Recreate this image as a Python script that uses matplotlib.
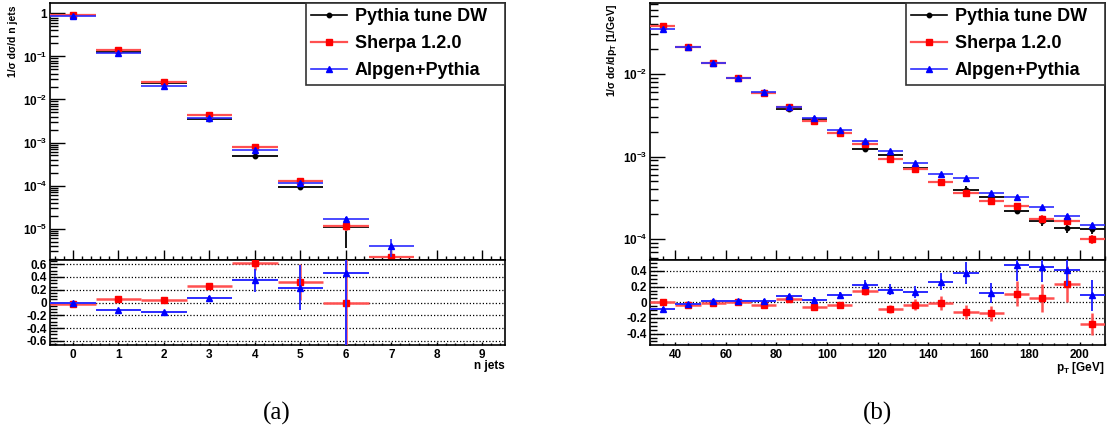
import numpy as np
import matplotlib
matplotlib.use('Agg')
import matplotlib.pyplot as plt
from matplotlib.ticker import FixedLocator, FixedFormatter, MultipleLocator, LogLocator, NullFormatter
from matplotlib.lines import Line2D

plt.rcParams.update({
    'font.family': ['Liberation Sans', 'DejaVu Sans'],
    'font.weight': 'bold',
    'mathtext.fontset': 'custom',
    'mathtext.rm': 'Liberation Sans:bold',
    'mathtext.it': 'Liberation Sans:bold:italic',
    'mathtext.bf': 'Liberation Sans:bold',
    'mathtext.default': 'rm',
})

# ---------------- data: panel (a) n jets ----------------
njets = [0, 1, 2, 3, 4, 5, 6, 7]
pythia_a = [0.90, 0.130, 0.0245, 0.00350, 0.000489, 9.5e-5, 1.1e-5, np.nan]
pythia_a_err = [0.01, 0.002, 0.0004, 0.00006, 0.00001, 1.5e-5, 0.75e-5, np.nan]
sherpa_a = [0.90, 0.138, 0.0254, 0.00436, 0.000794, 1.25e-4, 1.17e-5, 2.2e-6]
sherpa_a_err = [0.01, 0.002, 0.0004, 0.00006, 0.00002, 0.6e-5, 0.3e-5, 0.8e-6]
alpgen_a = [0.89, 0.117, 0.0207, 0.00380, 0.000664, 1.17e-4, 1.71e-5, 4.0e-6]
alpgen_a_err = [0.01, 0.002, 0.0004, 0.00006, 0.00002, 0.5e-5, 0.2e-5, 1.8e-6]

njets_ratio = [0, 1, 2, 3, 4, 5, 6]
sherpa_a_ratio = [-0.02, 0.056, 0.036, 0.254, 0.615, 0.32, -0.01]
sherpa_a_ratio_err = [0.01, 0.01, 0.015, 0.03, 0.10, 0.28, 0.9]
alpgen_a_ratio = [0.0, -0.117, -0.153, 0.071, 0.346, 0.229, 0.468]
alpgen_a_ratio_err = [0.01, 0.01, 0.015, 0.03, 0.18, 0.35, 1.2]

# ---------------- data: panel (b) pT ----------------
pt = [35, 45, 55, 65, 75, 85, 95, 105, 115, 125, 135, 145, 155, 165, 175, 185, 195, 205]
pythia_b = [0.0378, 0.0214, 0.01346, 0.00887, 0.00585, 0.00374, 0.00288, 0.00195, 0.00123,
            0.00103, 0.00072, 0.000494, 0.000395, 0.000328, 0.000222, 0.000168, 0.000138, 0.000134]
pythia_b_err = [0.0004, 0.0002, 0.00012, 0.00008, 0.00006, 0.00012, 0.00006, 0.00005, 0.00005,
                0.00005, 0.00004, 0.00003, 0.00004, 0.00003, 0.00002, 0.000025, 0.00002, 0.00002]
sherpa_b = [0.0380, 0.0214, 0.01346, 0.00887, 0.00585, 0.00399, 0.00272, 0.00194, 0.001426,
            0.000938, 0.000716, 0.000494, 0.000360, 0.000286, 0.000249, 0.000175, 0.000168, 0.000100]
sherpa_b_err = [0.0004, 0.0002, 0.0001, 0.00008, 0.00005, 0.00004, 0.00003, 0.00002, 0.00002,
                0.00002, 0.00002, 0.00002, 0.00002, 0.00002, 0.00002, 0.00002, 0.00002, 0.000012]
alpgen_b = [0.0346, 0.0210, 0.0137, 0.0090, 0.0060, 0.0040, 0.00291, 0.0021, 0.00152,
            0.00117, 0.000832, 0.000622, 0.000548, 0.000367, 0.000328, 0.000244, 0.000192, 0.000148]
alpgen_b_err = [0.0003, 0.0002, 0.0001, 0.00007, 0.00005, 0.00004, 0.00003, 0.00002, 0.00002,
                0.00002, 0.00001, 0.00001, 0.00001, 0.00001, 0.00001, 0.00001, 0.00001, 0.00001]

sherpa_b_ratio = [0.004, -0.03, -0.004, 0.0, -0.034, 0.047, -0.056, -0.03, 0.146,
                  -0.082, -0.03, -0.009, -0.12, -0.142, 0.108, 0.052, 0.232, -0.28]
sherpa_b_ratio_err = [0.02, 0.02, 0.02, 0.02, 0.02, 0.02, 0.03, 0.03, 0.05,
                      0.05, 0.07, 0.09, 0.09, 0.10, 0.16, 0.18, 0.23, 0.14]
alpgen_b_ratio = [-0.086, -0.02, 0.02, 0.02, 0.02, 0.08, 0.035, 0.09, 0.224,
                  0.163, 0.133, 0.262, 0.378, 0.12, 0.477, 0.456, 0.409, 0.09]
alpgen_b_ratio_err = [0.02, 0.02, 0.02, 0.02, 0.02, 0.03, 0.03, 0.04, 0.06,
                      0.07, 0.08, 0.11, 0.14, 0.13, 0.20, 0.20, 0.20, 0.20]

labels = ['Pythia tune DW', 'Sherpa 1.2.0', 'Alpgen+Pythia']

# ---------------- styling ----------------
BLK = 'black'
RED = '#ff0000'
RED_L = '#ff5050'
BLU = '#0000ff'
BLU_L = '#2b2bff'

W, H = 1113, 432
fig = plt.figure(figsize=(W / 100, H / 100), dpi=100)


def rect(x0, y0, x1, y1):
    return [x0 / W, 1 - y1 / H, (x1 - x0) / W, (y1 - y0) / H]


def draw_series(ax, x, y, hw, err, mcol, lcol, marker, ms, lw, z):
    ax.errorbar(x, y, xerr=hw, yerr=err, fmt=marker, color=mcol, ms=ms, mec=mcol,
                ecolor=lcol, elinewidth=lw, capsize=0, zorder=z)


def style_top(ax, decades, declabels, xminor):
    ax.set_yscale('log')
    ax.tick_params(axis='both', which='both', direction='in', top=False, right=False)
    ax.tick_params(axis='y', which='major', length=10.5, width=1, labelsize=8.5, pad=2)
    ax.tick_params(axis='y', which='minor', length=5.5, width=1)
    ax.tick_params(axis='x', which='major', length=7, width=1, labelbottom=False)
    ax.tick_params(axis='x', which='minor', length=3, width=1)
    ax.yaxis.set_major_locator(FixedLocator(decades))
    ax.yaxis.set_major_formatter(FixedFormatter(declabels))
    ax.yaxis.set_minor_locator(LogLocator(base=10, subs=np.arange(2, 10), numticks=30))
    ax.yaxis.set_minor_formatter(NullFormatter())
    ax.xaxis.set_minor_locator(MultipleLocator(xminor))
    for s in ax.spines.values():
        s.set_linewidth(1.2)


def style_ratio(ax, yt, ylab, xt, xlab, xminor):
    ax.tick_params(axis='both', which='both', direction='in', top=False, right=False)
    ax.tick_params(axis='y', which='major', length=10, width=1, labelsize=8.5, pad=2)
    ax.tick_params(axis='y', which='minor', length=5, width=1)
    ax.tick_params(axis='x', which='major', length=2.5, width=1, labelsize=8.5, pad=3)
    ax.tick_params(axis='x', which='minor', length=1.2, width=1)
    ax.yaxis.set_major_locator(FixedLocator(yt))
    ax.yaxis.set_major_formatter(FixedFormatter(ylab))
    ax.yaxis.set_minor_locator(MultipleLocator(0.05))
    ax.xaxis.set_major_locator(FixedLocator(xt))
    ax.xaxis.set_major_formatter(FixedFormatter(xlab))
    ax.xaxis.set_minor_locator(MultipleLocator(xminor))
    for v in yt:
        ax.axhline(v, color='black', lw=0.9, ls=(0, (1, 1.6)), zorder=1)
    for s in ax.spines.values():
        s.set_linewidth(1.2)


def add_legend(ax):
    handles = [
        Line2D([], [], color=BLK, marker='o', ms=3.2, lw=1.2),
        Line2D([], [], color=RED_L, marker='s', mfc=RED, mec=RED, ms=4, lw=1.6),
        Line2D([], [], color=BLU_L, marker='^', mfc=BLU, mec=BLU, ms=4, lw=1.2),
    ]
    x0 = 256 / 455.0
    leg = ax.legend(handles, labels, loc='upper right',
                    bbox_to_anchor=(x0, 0.0, 1.0 - x0, 1.0), mode='expand',
                    borderaxespad=0, fancybox=False, framealpha=1, edgecolor='#333333',
                    prop={'size': 13, 'weight': 'bold'}, handlelength=1.95,
                    handletextpad=0.45, labelspacing=0.55, borderpad=0.3)
    leg.get_frame().set_linewidth(1.2)
    leg.set_zorder(10)


# ================= panel (a) =================
axa = fig.add_axes(rect(50, 3, 505, 260))
draw_series(axa, njets, pythia_a, 0.5, pythia_a_err, BLK, BLK, 'o', 3.2, 1.3, 3)
draw_series(axa, njets, sherpa_a, 0.5, sherpa_a_err, RED, RED_L, 's', 4, 1.6, 4)
draw_series(axa, njets, alpgen_a, 0.5, alpgen_a_err, BLU, BLU_L, '^', 4, 1.2, 5)
axa.set_xlim(-0.5, 9.5)
axa.set_ylim(1.87e-6, 1.74)
style_top(axa, [1e-5, 1e-4, 1e-3, 1e-2, 1e-1, 1],
          [r'$10^{-5}$', r'$10^{-4}$', r'$10^{-3}$', r'$10^{-2}$', r'$10^{-1}$', '1'], 0.2)
axa.xaxis.set_major_locator(FixedLocator(njets + [8, 9]))
axa.text(-0.082, 0.99, '1/σ dσ/d n jets', rotation=90, ha='center', va='top',
         transform=axa.transAxes, fontsize=7.5, fontweight='bold')
add_legend(axa)

axa_r = fig.add_axes(rect(50, 260, 505, 345))
draw_series(axa_r, njets_ratio, sherpa_a_ratio, 0.5, sherpa_a_ratio_err, RED, RED_L, 's', 5, 1.8, 4)
draw_series(axa_r, njets_ratio, alpgen_a_ratio, 0.5, alpgen_a_ratio_err, BLU, BLU_L, '^', 5, 1.4, 5)
axa_r.set_xlim(-0.5, 9.5)
axa_r.set_ylim(-0.665, 0.665)
style_ratio(axa_r, [-0.6, -0.4, -0.2, 0, 0.2, 0.4, 0.6],
            ['-0.6', '-0.4', '-0.2', '0', '0.2', '0.4', '0.6'],
            list(range(10)), [str(i) for i in range(10)], 0.2)
axa_r.text(1.0, -0.175, 'n jets', ha='right', va='top', transform=axa_r.transAxes,
           fontsize=8.5, fontweight='bold')

# ================= panel (b) =================
axb = fig.add_axes(rect(650, 3, 1105, 260))
draw_series(axb, pt, pythia_b, 5, pythia_b_err, BLK, BLK, 'o', 3.2, 1.3, 3)
draw_series(axb, pt, sherpa_b, 5, sherpa_b_err, RED, RED_L, 's', 4, 1.6, 4)
draw_series(axb, pt, alpgen_b, 5, alpgen_b_err, BLU, BLU_L, '^', 4, 1.2, 5)
axb.set_xlim(30, 210)
axb.set_ylim(5.6e-5, 0.072)
style_top(axb, [1e-4, 1e-3, 1e-2], [r'$10^{-4}$', r'$10^{-3}$', r'$10^{-2}$'], 5)
axb.xaxis.set_major_locator(MultipleLocator(20))
axb.text(-0.084, 0.995, '1/σ dσ/dp$_T$ [1/GeV]', rotation=90, ha='center', va='top',
         transform=axb.transAxes, fontsize=7.5, fontweight='bold')
add_legend(axb)

axb_r = fig.add_axes(rect(650, 260, 1105, 345))
draw_series(axb_r, pt, sherpa_b_ratio, 5, sherpa_b_ratio_err, RED, RED_L, 's', 5, 1.8, 4)
draw_series(axb_r, pt, alpgen_b_ratio, 5, alpgen_b_ratio_err, BLU, BLU_L, '^', 5, 1.4, 5)
axb_r.set_xlim(30, 210)
axb_r.set_ylim(-0.545, 0.54)
style_ratio(axb_r, [-0.4, -0.2, 0, 0.2, 0.4], ['-0.4', '-0.2', '0', '0.2', '0.4'],
            list(range(40, 201, 20)), [str(v) for v in range(40, 201, 20)], 5)
axb_r.text(1.0, -0.175, 'p$_T$ [GeV]', ha='right', va='top', transform=axb_r.transAxes,
           fontsize=8.5, fontweight='bold')

# captions
fig.text(277 / W, 1 - 413 / H, '(a)', ha='center', va='center', fontsize=18,
         family='Liberation Serif', fontweight='normal')
fig.text(877 / W, 1 - 413 / H, '(b)', ha='center', va='center', fontsize=18,
         family='Liberation Serif', fontweight='normal')

fig.savefig('out.png', dpi=100)
